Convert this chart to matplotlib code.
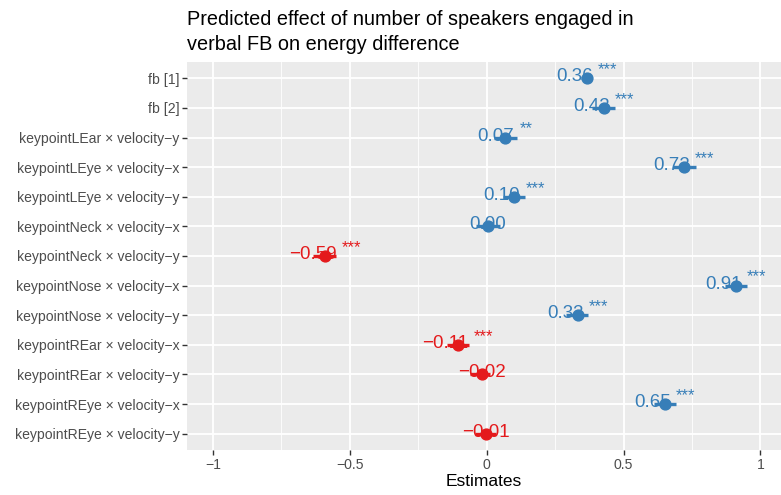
import matplotlib.pyplot as plt
import matplotlib.ticker as ticker
import matplotlib.transforms as mtransforms
import numpy as np

# ── Data ──────────────────────────────────────────────────────────────────────
terms = ["fb [1]", "fb [2]",
         "keypointLEar × velocity−y", "keypointLEye × velocity−x",
         "keypointLEye × velocity−y", "keypointNeck × velocity−x",
         "keypointNeck × velocity−y", "keypointNose × velocity−x",
         "keypointNose × velocity−y", "keypointREar × velocity−x",
         "keypointREar × velocity−y", "keypointREye × velocity−x",
         "keypointREye × velocity−y"]
estimate = [0.365, 0.427, 0.066, 0.72, 0.10, 0.003, -0.59, 0.909,
            0.332, -0.106, -0.018, 0.65, -0.004]
conf_low = [0.345, 0.385, 0.025, 0.68, 0.06, -0.04, -0.635, 0.87,
            0.29, -0.146, -0.06, 0.61, -0.042]
conf_high = [0.385, 0.47, 0.11, 0.763, 0.14, 0.047, -0.55, 0.95,
             0.37, -0.066, 0.012, 0.69, 0.035]
labels = ["0.36", "0.42", "0.07", "0.72", "0.10", "0.00", "−0.59", "0.91",
          "0.33", "−0.11", "−0.02", "0.65", "−0.01"]
stars = ["***", "***", "**", "***", "***", "", "***", "***",
         "***", "***", "", "***", ""]

C_POS = "#377EB8"
C_NEG = "#E41A1C"

plt.rcParams.update({
    "font.family": ["Liberation Sans", "DejaVu Sans"],
})

fig = plt.figure(figsize=(7.81, 4.95), dpi=100)
ax = fig.add_axes([187 / 781, 45 / 495, 594 / 781, 388 / 495])
ax.set_facecolor("#EBEBEB")

n = len(terms)
ypos = np.arange(n)[::-1]

for y, e, lo, hi in zip(ypos, estimate, conf_low, conf_high):
    col = C_POS if e > 0 else C_NEG
    ax.plot([lo, hi], [y, y], color=col, linewidth=2.4, solid_capstyle="butt", zorder=3)
    ax.plot(e, y, "o", color=col, markersize=7.8, zorder=4)

# value labels: "0.36 ***" centred on the point, stars small and raised
fig.canvas.draw()
renderer = fig.canvas.get_renderer()
FS = 13.5
FS_STAR = 12


def text_width(s, size):
    t = ax.text(0, 0, s, fontsize=size)
    w = t.get_window_extent(renderer).width
    t.remove()
    return w


for y, e, lab, st in zip(ypos, estimate, labels, stars):
    col = C_POS if e > 0 else C_NEG
    if st:
        w_num = text_width(lab + " ", FS)
        total = w_num + text_width(st, FS_STAR)
    else:
        total = text_width(lab, FS)
    dx = -total / 2
    ax.text(e, y, lab, fontsize=FS, color=col, ha="left", va="baseline", zorder=5,
            transform=ax.transData + mtransforms.ScaledTranslation(
                dx / 100, -3 / 100, fig.dpi_scale_trans))
    if st:
        ax.text(e, y, st, fontsize=FS_STAR, color=col, ha="left", va="baseline", zorder=5,
                transform=ax.transData + mtransforms.ScaledTranslation(
                    (dx + w_num) / 100, 4 / 100, fig.dpi_scale_trans))

ax.set_xlim(-1.095, 1.075)
ax.set_ylim(-0.55, n - 0.45)
ax.set_yticks(ypos)
ax.set_yticklabels(terms)
ax.set_xticks([-1, -0.5, 0, 0.5, 1])
ax.set_xticklabels(["−1", "−0.5", "0", "0.5", "1"])
ax.xaxis.set_minor_locator(ticker.FixedLocator([-0.75, -0.25, 0.25, 0.75]))

ax.grid(which="major", color="white", linewidth=1.3)
ax.grid(which="minor", axis="x", color="white", linewidth=0.6)
ax.set_axisbelow(True)
for s in ax.spines.values():
    s.set_visible(False)
ax.tick_params(axis="both", which="major", length=3.5, width=1.0, color="#333333",
               labelcolor="#4D4D4D", labelsize=10.1, pad=2)
ax.tick_params(axis="x", which="minor", length=0)

ax.set_xlabel("Estimates", fontsize=12.5, color="black", labelpad=2)

fig.text(187 / 781, 1 - 10 / 495,
         "Predicted effect of number of speakers engaged in\nverbal FB on energy difference",
         fontsize=14.3, ha="left", va="top", linespacing=1.4)

fig.savefig("out.png", dpi=100)
